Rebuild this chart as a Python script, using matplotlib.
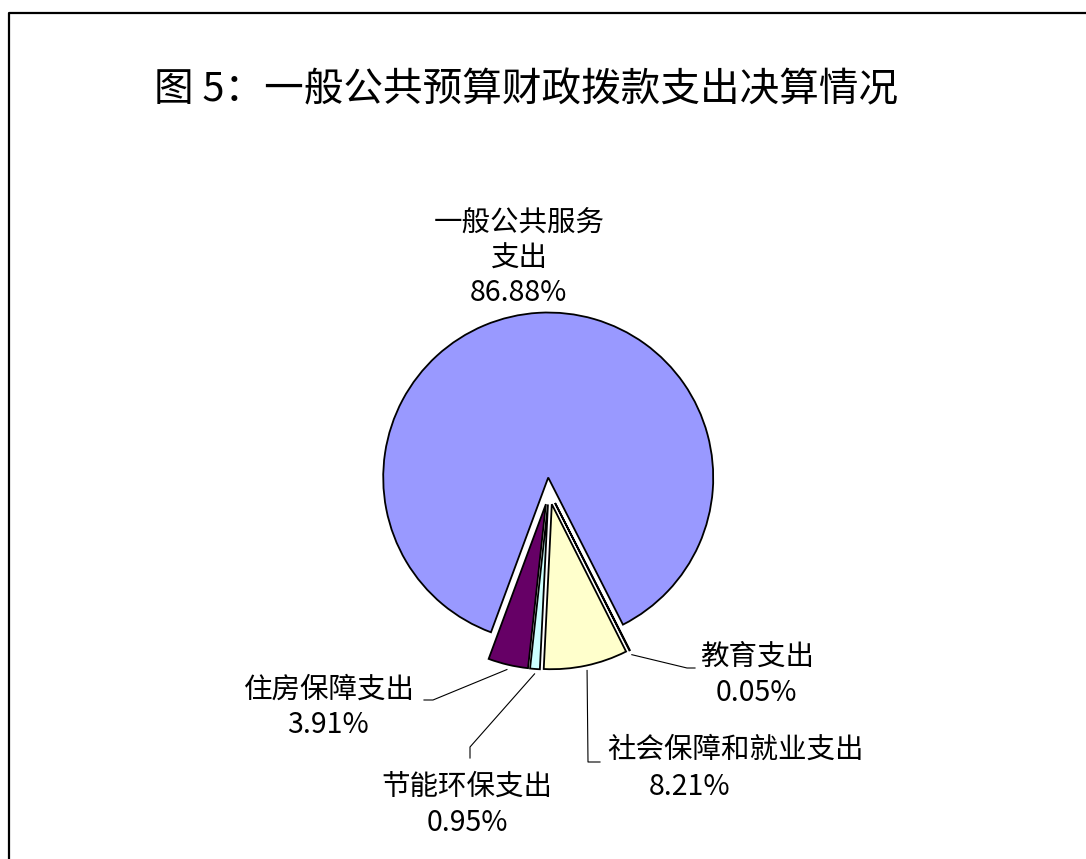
import numpy as np
import matplotlib.pyplot as plt

plt.rcParams['font.family'] = ['Noto Sans CJK SC', 'DejaVu Sans']

# data, in pie order (clockwise)
categories = ['一般公共服务支出', '教育支出', '社会保障和就业支出', '节能环保支出', '住房保障支出']
shares = [86.88, 0.05, 8.21, 0.95, 3.91]
colors = ['#9999FF', '#993366', '#FFFFCC', '#CCFFFF', '#660066']
title = '图 5：一般公共预算财政拨款支出决算情况'

W, H = 1086, 859


def py(y):
    # pixel row (top down) -> axes y (bottom up)
    return H - y


def main():
    fig = plt.figure(figsize=(W / 100, H / 100), dpi=100)
    ax = fig.add_axes([0, 0, 1, 1])

    # explode is in data units here (pixels), not a fraction of the radius
    wedges, _ = ax.pie(shares, colors=colors, explode=[13.5] * len(shares),
                       startangle=249.7, counterclock=False,
                       center=(549, py(491)), radius=165,
                       wedgeprops=dict(edgecolor='black', linewidth=1.3))
    # pie resets the limits, so set them afterwards
    ax.set_xlim(0, W)
    ax.set_ylim(0, H)
    ax.set_aspect('equal')
    ax.axis('off')

    # label layout: name line, value line, leader elbow points (pixel coords)
    layout = [
        dict(name=(519, 224), val=(518, 293), path=None, name_text='一般公共服务\n支出'),
        dict(name=(757, 657), val=(756, 693), path=[(687, 668), (695, 668)]),
        dict(name=(735, 750), val=(690, 787), path=[(588, 762), (600, 762)]),
        dict(name=(467, 787), val=(467, 823), path=[(470, 747), (470, 758)]),
        dict(name=(329, 690), val=(328, 725), path=[(433, 700), (424, 700)]),
    ]

    for w, cat, val, lay in zip(wedges, categories, shares, layout):
        txt = lay.get('name_text', cat)
        if '\n' in txt:
            ax.text(lay['name'][0], py(lay['name'][1]) - 17, txt, ha='center', va='center',
                    fontsize=20.5, linespacing=1.2)
        else:
            ax.text(lay['name'][0], py(lay['name'][1]), txt, ha='center', va='center',
                    fontsize=20.5)
        ax.text(lay['val'][0], py(lay['val'][1]), f'{val:.2f}%', ha='center', va='center',
                fontsize=20.5)
        if lay['path']:
            mid = np.deg2rad((w.theta1 + w.theta2) / 2)
            cx, cy = w.center
            ax0 = cx + w.r * 1.03 * np.cos(mid)
            ay0 = cy + w.r * 1.03 * np.sin(mid)
            xs = [ax0] + [p[0] for p in lay['path']]
            ys = [ay0] + [py(p[1]) for p in lay['path']]
            ax.plot(xs, ys, color='black', lw=0.8)

    ax.text(526, py(90), title, ha='center', va='center', fontsize=28.5, fontweight='medium')

    # outer frame (only top and left visible)
    ax.plot([9, 9, W + 20], [-20, py(13), py(13)], color='black', lw=1.6, clip_on=False)

    fig.savefig('out.png', dpi=100)


if __name__ == "__main__":
    main()
